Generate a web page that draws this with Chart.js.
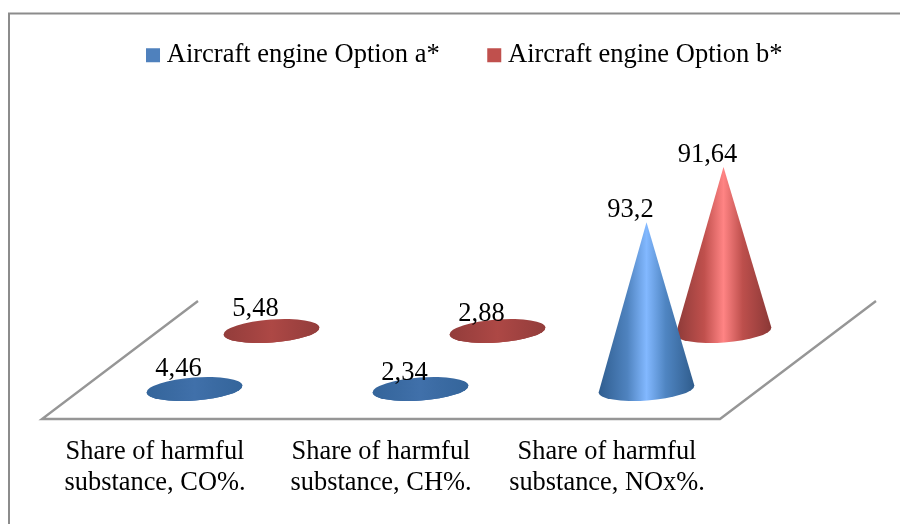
<!DOCTYPE html>
<html>
<head>
<meta charset="utf-8">
<title>Harmful substances</title>
<script src="https://cdn.jsdelivr.net/npm/chart.js@4"></script>
<style>
    html, body { margin: 0; padding: 0; background: #fff; }
    #wrap { width: 900px; height: 524px; }
</style>
</head>
<body>
<div id="wrap"><canvas id="coneChart" width="900" height="524"></canvas></div>
<script>
/* ===========================
Data
=========================== */

const categories = [
    ["Share of harmful", "substance, CO%."],
    ["Share of harmful", "substance, CH%."],
    ["Share of harmful", "substance, NOx%."]
];
const seriesNames = ["Aircraft engine Option a*", "Aircraft engine Option b*"];
const optionA = [4.46, 2.34, 93.2];
const optionB = [5.48, 2.88, 91.64];
const seriesColors = ["#4F81BD", "#C0504D"];

/* ===========================
Cone look
=========================== */

const serif = "'Liberation Serif', 'Times New Roman', serif";
const lineGray = "#8c8c8c";
const depth = { dx: 156, dy: -118 };
const seriesOffset = [{ dx: 39.5, dy: -30 }, { dx: 116.5, dy: -88 }];
const coneRx = 48;
const coneRy = 11.5;
const coneTilt = -4.2 * Math.PI / 180;

const tallStops = [
    ["#2f5d8f", "#4f83bf", "#82b8ff", "#4f85c2", "#2f5c8c"],
    ["#8c3a38", "#c0504d", "#ff8484", "#bd4f4c", "#8a3836"]
];
const flatStops = [
    ["#34659b", "#3b6ba3", "#4070aa", "#3b6ba3", "#34659b"],
    ["#933d3b", "#a24341", "#ad4845", "#a24341", "#933d3b"]
];

function coneGradient(ctx, cx, stops) {
    const grad = ctx.createLinearGradient(cx - coneRx, 0, cx + coneRx, 0);
    [0, 0.3, 0.5, 0.7, 1].forEach((p, i) => grad.addColorStop(p, stops[i]));
    return grad;
}

function drawCone(ctx, cx, baseY, apexY, seriesIndex) {
    const tall = baseY - apexY > 30;
    const fill = coneGradient(ctx, cx, (tall ? tallStops : flatStops)[seriesIndex]);
    const ex = coneRx * Math.cos(coneTilt);
    const ey = coneRx * Math.sin(coneTilt);

    ctx.save();
    ctx.fillStyle = fill;
    if (!tall) {
        ctx.beginPath();
        ctx.ellipse(cx, baseY, coneRx, coneRy, coneTilt, 0, Math.PI * 2);
        ctx.fill();
    }
    ctx.beginPath();
    ctx.moveTo(cx, apexY);
    ctx.lineTo(cx + ex, baseY + ey);
    ctx.ellipse(cx, baseY, coneRx, coneRy, coneTilt, 0, Math.PI);
    ctx.closePath();
    ctx.fill();
    ctx.restore();
}

/* ===========================
Plugins
=========================== */

const framePlugin = {
    id: "frame",
    beforeDraw(chart) {
        const ctx = chart.ctx;
        const area = chart.chartArea;
        ctx.save();
        ctx.strokeStyle = lineGray;
        ctx.lineWidth = 2;
        ctx.beginPath();
        ctx.moveTo(9, chart.height);
        ctx.lineTo(9, 13.5);
        ctx.lineTo(chart.width, 13.5);
        ctx.stroke();

        // floor of the 3d chart
        ctx.strokeStyle = "#969696";
        ctx.lineWidth = 2.4;
        ctx.lineJoin = "miter";
        ctx.beginPath();
        ctx.moveTo(area.left + depth.dx, area.bottom + depth.dy);
        ctx.lineTo(area.left, area.bottom);
        ctx.lineTo(area.right, area.bottom);
        ctx.lineTo(area.right + depth.dx, area.bottom + depth.dy);
        ctx.stroke();
        ctx.restore();
    }
};

const conePlugin = {
    id: "cones",
    afterLayout(chart) {
        // legend sits near the top of the frame, a bit right of the middle
        chart.legend.left = 35;
        chart.legend.right = 900;
        chart.legend.top -= 38;
        chart.legend.bottom -= 38;
    },
    beforeDatasetDraw(chart, args) {
        const y = chart.scales.y;
        const off = seriesOffset[args.index];
        const values = chart.data.datasets[args.index].data;
        args.meta.data.forEach((bar, i) => {
            drawCone(chart.ctx, bar.x + off.dx, y.getPixelForValue(0) + off.dy,
                y.getPixelForValue(values[i]) + off.dy, args.index);
        });
        return false;
    },
    afterDatasetsDraw(chart) {
        const ctx = chart.ctx;
        const y = chart.scales.y;
        ctx.save();
        ctx.fillStyle = "#000";
        ctx.font = "26.5px " + serif;
        ctx.textAlign = "center";
        ctx.textBaseline = "middle";
        chart.data.datasets.forEach((ds, d) => {
            const off = seriesOffset[d];
            chart.getDatasetMeta(d).data.forEach((bar, i) => {
                ctx.fillText(String(ds.data[i]).replace(".", ","),
                    bar.x + off.dx - 16, y.getPixelForValue(ds.data[i]) + off.dy - 12);
            });
        });
        ctx.restore();
    }
};

/* ===========================
Chart
=========================== */

new Chart(document.getElementById("coneChart"), {
    type: "bar",
    data: {
        labels: categories,
        datasets: [
            { label: seriesNames[0], data: optionA, backgroundColor: seriesColors[0] },
            { label: seriesNames[1], data: optionB, backgroundColor: seriesColors[1] }
        ]
    },
    plugins: [framePlugin, conePlugin],
    options: {
        responsive: false,
        animation: false,
        grouped: false,
        layout: { padding: { left: 42, right: 0, top: 26, bottom: 15 } },
        plugins: {
            tooltip: { enabled: false },
            legend: {
                position: "top",
                labels: {
                    color: "#000",
                    font: { family: serif, size: 26.5 },
                    boxWidth: 1,
                    boxHeight: 1,
                    padding: 54,
                    generateLabels(chart) {
                        return chart.data.datasets.map((ds, i) => ({
                            text: ds.label,
                            fillStyle: ds.backgroundColor,
                            strokeStyle: ds.backgroundColor,
                            lineWidth: 13,
                            datasetIndex: i
                        }));
                    }
                }
            }
        },
        scales: {
            x: {
                grid: { display: false },
                border: { display: false },
                ticks: {
                    color: "#000",
                    maxRotation: 0,
                    padding: 10,
                    font: { family: serif, size: 26.4, lineHeight: "31px" }
                }
            },
            y: {
                display: false,
                min: 0,
                max: 169
            },
            // empty axis: keeps the room right of the floor free for its depth
            spacer: {
                position: "right",
                grid: { display: false },
                border: { display: false },
                ticks: { display: false },
                afterFit(scale) { scale.width = 180; }
            }
        }
    }
});
</script>
</body>
</html>
